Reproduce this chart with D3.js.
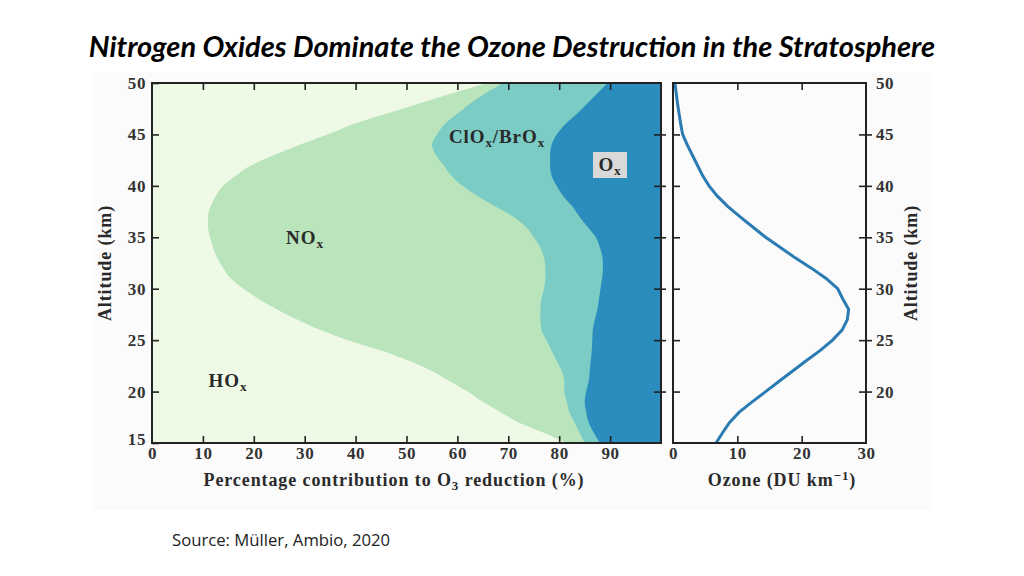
<!DOCTYPE html>
<html>
<head>
<meta charset="utf-8">
<script src="https://cdn.jsdelivr.net/npm/d3@7"></script>
<style>
  body { margin: 0; background: #fff; }
  svg { display: block; }
  .tick text { font-family: "Liberation Serif", serif; font-weight: bold; font-size: 17px; letter-spacing: 0.6px; fill: #333; }
  .tick line { stroke: #222; stroke-width: 1.6; }
  .lbl { font-family: "Liberation Serif", serif; font-weight: bold; fill: #2a2a2a; letter-spacing: 0.9px; }
</style>
</head>
<body>
<svg id="chart" width="1024" height="576"></svg>
<script>
// altitude levels (km)
const altitude = [15, 16, 17, 18, 19, 20, 21, 22, 23, 24, 25, 26, 27, 28, 29, 30, 31, 32,
  33, 34, 35, 36, 37, 38, 39, 40, 41, 42, 43, 44, 45, 46, 47, 48, 49, 50];

// cumulative contribution boundaries (%) at each altitude
const hoxTop = [81.5, 77, 72, 68.5, 65, 62, 58.5, 55, 50.5, 45, 38.5, 33, 28.5, 24.5, 21, 18,
  15.5, 14, 12.8, 12, 11.4, 11, 11, 11.5, 12.5, 14, 16.5, 19.5, 24, 29, 34.5, 39.5, 46, 52.5, 59, 66];
const noxTop = [85, 84, 83, 82, 81.5, 81, 81, 80.5, 79.5, 78.5, 77.5, 76.5, 76.3, 76.3, 76.5, 77,
  77.3, 77.3, 77, 76.3, 75, 73.5, 71, 67.5, 64, 61, 58.8, 57.3, 55.8, 55, 56, 57.5, 60, 62.5, 65.5, 69];
const cloxTop = [88, 86.8, 85.8, 85.3, 85, 85.3, 85.8, 86, 86.2, 86.4, 86.5, 86.6, 87, 87.5, 87.8, 88.1,
  88.4, 88.6, 88.5, 88, 87.2, 85.6, 84, 82.6, 80.8, 79.5, 78.5, 78.2, 78.2, 78.5, 79.5, 81.2, 83.5, 85.5, 87.5, 89.5];

// ozone profile (DU/km)
const ozone = [6.7, 7.7, 8.8, 10.3, 12.3, 14.4, 16.5, 18.6, 20.7, 22.9, 24.8, 26.3, 27.1, 27.3, 26.4, 25.6,
  23.8, 21.5, 19, 16.7, 14.4, 12.4, 10.4, 8.5, 6.9, 5.6, 4.6, 3.8, 3.0, 2.2, 1.5, 1.2, 0.95, 0.7, 0.5, 0.3];

const altTicks = [15, 20, 25, 30, 35, 40, 45, 50];
const pctTicks = [0, 10, 20, 30, 40, 50, 60, 70, 80, 90];
const duTicks = [0, 10, 20, 30];

const svg = d3.select('#chart');

// faint figure background
svg.append('rect').attr('x', 92).attr('y', 72).attr('width', 840).attr('height', 438).attr('fill', '#fbfbfb');

svg.append('text')
  .attr('x', 512).attr('y', 57)
  .attr('text-anchor', 'middle')
  .style('font-family', 'Lato, "Open Sans", sans-serif')
  .style('font-style', 'italic').style('font-weight', 'bold')
  .style('font-size', '29px')
  .text('Nitrogen Oxides Dominate the Ozone Destruction in the Stratosphere');

const y = d3.scaleLinear().domain([15, 50]).range([443, 83]);
const xL = d3.scaleLinear().domain([0, 100]).range([152, 661]);
const xR = d3.scaleLinear().domain([0, 30]).range([673, 866]);

const rows = altitude.map((a, i) => ({ a, h: hoxTop[i], n: noxTop[i], c: cloxTop[i], o: ozone[i] }));

// left panel: stacked regions
svg.append('rect').attr('x', xL(0)).attr('y', y(50))
  .attr('width', xL(100) - xL(0)).attr('height', y(15) - y(50)).attr('fill', '#eef9e6');

const band = (key) => d3.area()
  .y((d) => y(d.a))
  .x0((d) => xL(d[key]))
  .x1(xL(100))
  .curve(d3.curveMonotoneY);

[['h', '#bae4bc'], ['n', '#7bccc4'], ['c', '#2b8cbe']].forEach(([k, col]) => {
  svg.append('path').datum(rows).attr('d', band(k)).attr('fill', col);
});

function sub(sel, x, yy, main, s, size) {
  const t = sel.append('text').attr('class', 'lbl').attr('x', x).attr('y', yy)
    .attr('text-anchor', 'middle').style('font-size', size + 'px');
  t.append('tspan').text(main);
  t.append('tspan').attr('dy', 4).style('font-size', (size * 0.7) + 'px').text(s);
  return t;
}

sub(svg, 305, 244, 'NO', 'x', 19);
sub(svg, 228, 387, 'HO', 'x', 19);
const cl = svg.append('text').attr('class', 'lbl').attr('x', 497).attr('y', 143)
  .attr('text-anchor', 'middle').style('font-size', '19px');
cl.append('tspan').text('ClO');
cl.append('tspan').attr('dy', 4).style('font-size', '13px').text('x');
cl.append('tspan').attr('dy', -4).text('/BrO');
cl.append('tspan').attr('dy', 4).style('font-size', '13px').text('x');

svg.append('rect').attr('x', 593).attr('y', 152).attr('width', 34).attr('height', 26).attr('fill', '#d9d9d9');
sub(svg, 610, 171, 'O', 'x', 19);

// axes helper
function frame(x, domX) {
  svg.append('rect').attr('x', x(domX[0])).attr('y', y(50))
    .attr('width', x(domX[1]) - x(domX[0])).attr('height', y(15) - y(50))
    .attr('fill', 'none').attr('stroke', '#222').attr('stroke-width', 2);
}

function addAxis(axis, tx, ty) {
  const g = svg.append('g').attr('transform', `translate(${tx},${ty})`).call(axis);
  g.select('.domain').remove();
  return g;
}

// left panel axes
addAxis(d3.axisLeft(y).tickValues(altTicks).tickSize(-7).tickPadding(6), xL(0), 0)
  .selectAll('.tick').filter((d) => d === 15).select('text').attr('dy', '0.1em');
addAxis(d3.axisBottom(xL).tickValues(pctTicks).tickSize(-7).tickPadding(4), 0, y(15))
  .selectAll('.tick').filter((d) => d === 0 || d === 100).select('line').remove();
addAxis(d3.axisTop(xL).tickValues(pctTicks.slice(1)).tickSize(-7).tickFormat(''), 0, y(50));
addAxis(d3.axisRight(y).tickValues(altTicks.slice(1, -1)).tickSize(-7).tickFormat(''), xL(100), 0);
addAxis(d3.axisRight(y).tickValues(altTicks.slice(1, -1)).tickSize(5).tickFormat(''), xL(100), 0);
frame(xL, [0, 100]);

// right panel
svg.append('path').datum(rows)
  .attr('d', d3.line().x((d) => xR(d.o)).y((d) => y(d.a)))
  .attr('fill', 'none').attr('stroke', '#2b7bb3').attr('stroke-width', 3);

addAxis(d3.axisLeft(y).tickValues(altTicks.slice(1, -1)).tickSize(-7).tickFormat(''), xR(0), 0);
addAxis(d3.axisRight(y).tickValues(altTicks.slice(1)).tickSize(6).tickPadding(4), xR(30), 0)
  .selectAll('.tick').filter((d) => d === 50).select('line').remove();
addAxis(d3.axisRight(y).tickValues(altTicks.slice(1, -1)).tickSize(-7).tickFormat(''), xR(30), 0);
addAxis(d3.axisBottom(xR).tickValues(duTicks).tickSize(-7).tickPadding(4), 0, y(15))
  .selectAll('.tick').filter((d) => d === 0 || d === 30).select('line').remove();
addAxis(d3.axisTop(xR).tickValues([10, 20]).tickSize(-7).tickFormat(''), 0, y(50));
frame(xR, [0, 30]);

// axis titles
const xt = svg.append('text').attr('class', 'lbl').attr('x', 394).attr('y', 486)
  .attr('text-anchor', 'middle').style('font-size', '18px');
xt.append('tspan').text('Percentage contribution to O');
xt.append('tspan').attr('dy', 4).style('font-size', '13px').text('3');
xt.append('tspan').attr('dy', -4).text(' reduction (%)');

const rt = svg.append('text').attr('class', 'lbl').attr('x', 782).attr('y', 486)
  .attr('text-anchor', 'middle').style('font-size', '18px');
rt.append('tspan').text('Ozone (DU km');
rt.append('tspan').attr('dy', -6).style('font-size', '13px').text('−1');
rt.append('tspan').attr('dy', 6).text(')');

[[111, -90], [917, -90]].forEach(([xx, r]) => {
  svg.append('text').attr('class', 'lbl')
    .attr('transform', `translate(${xx},263) rotate(${r})`)
    .attr('text-anchor', 'middle').style('font-size', '18px')
    .text('Altitude (km)');
});

svg.append('text').attr('x', 172).attr('y', 546)
  .style('font-family', '"Open Sans", sans-serif').style('font-size', '16.7px').attr('fill', '#222')
  .text('Source: Müller, Ambio, 2020');
</script>
</body>
</html>
